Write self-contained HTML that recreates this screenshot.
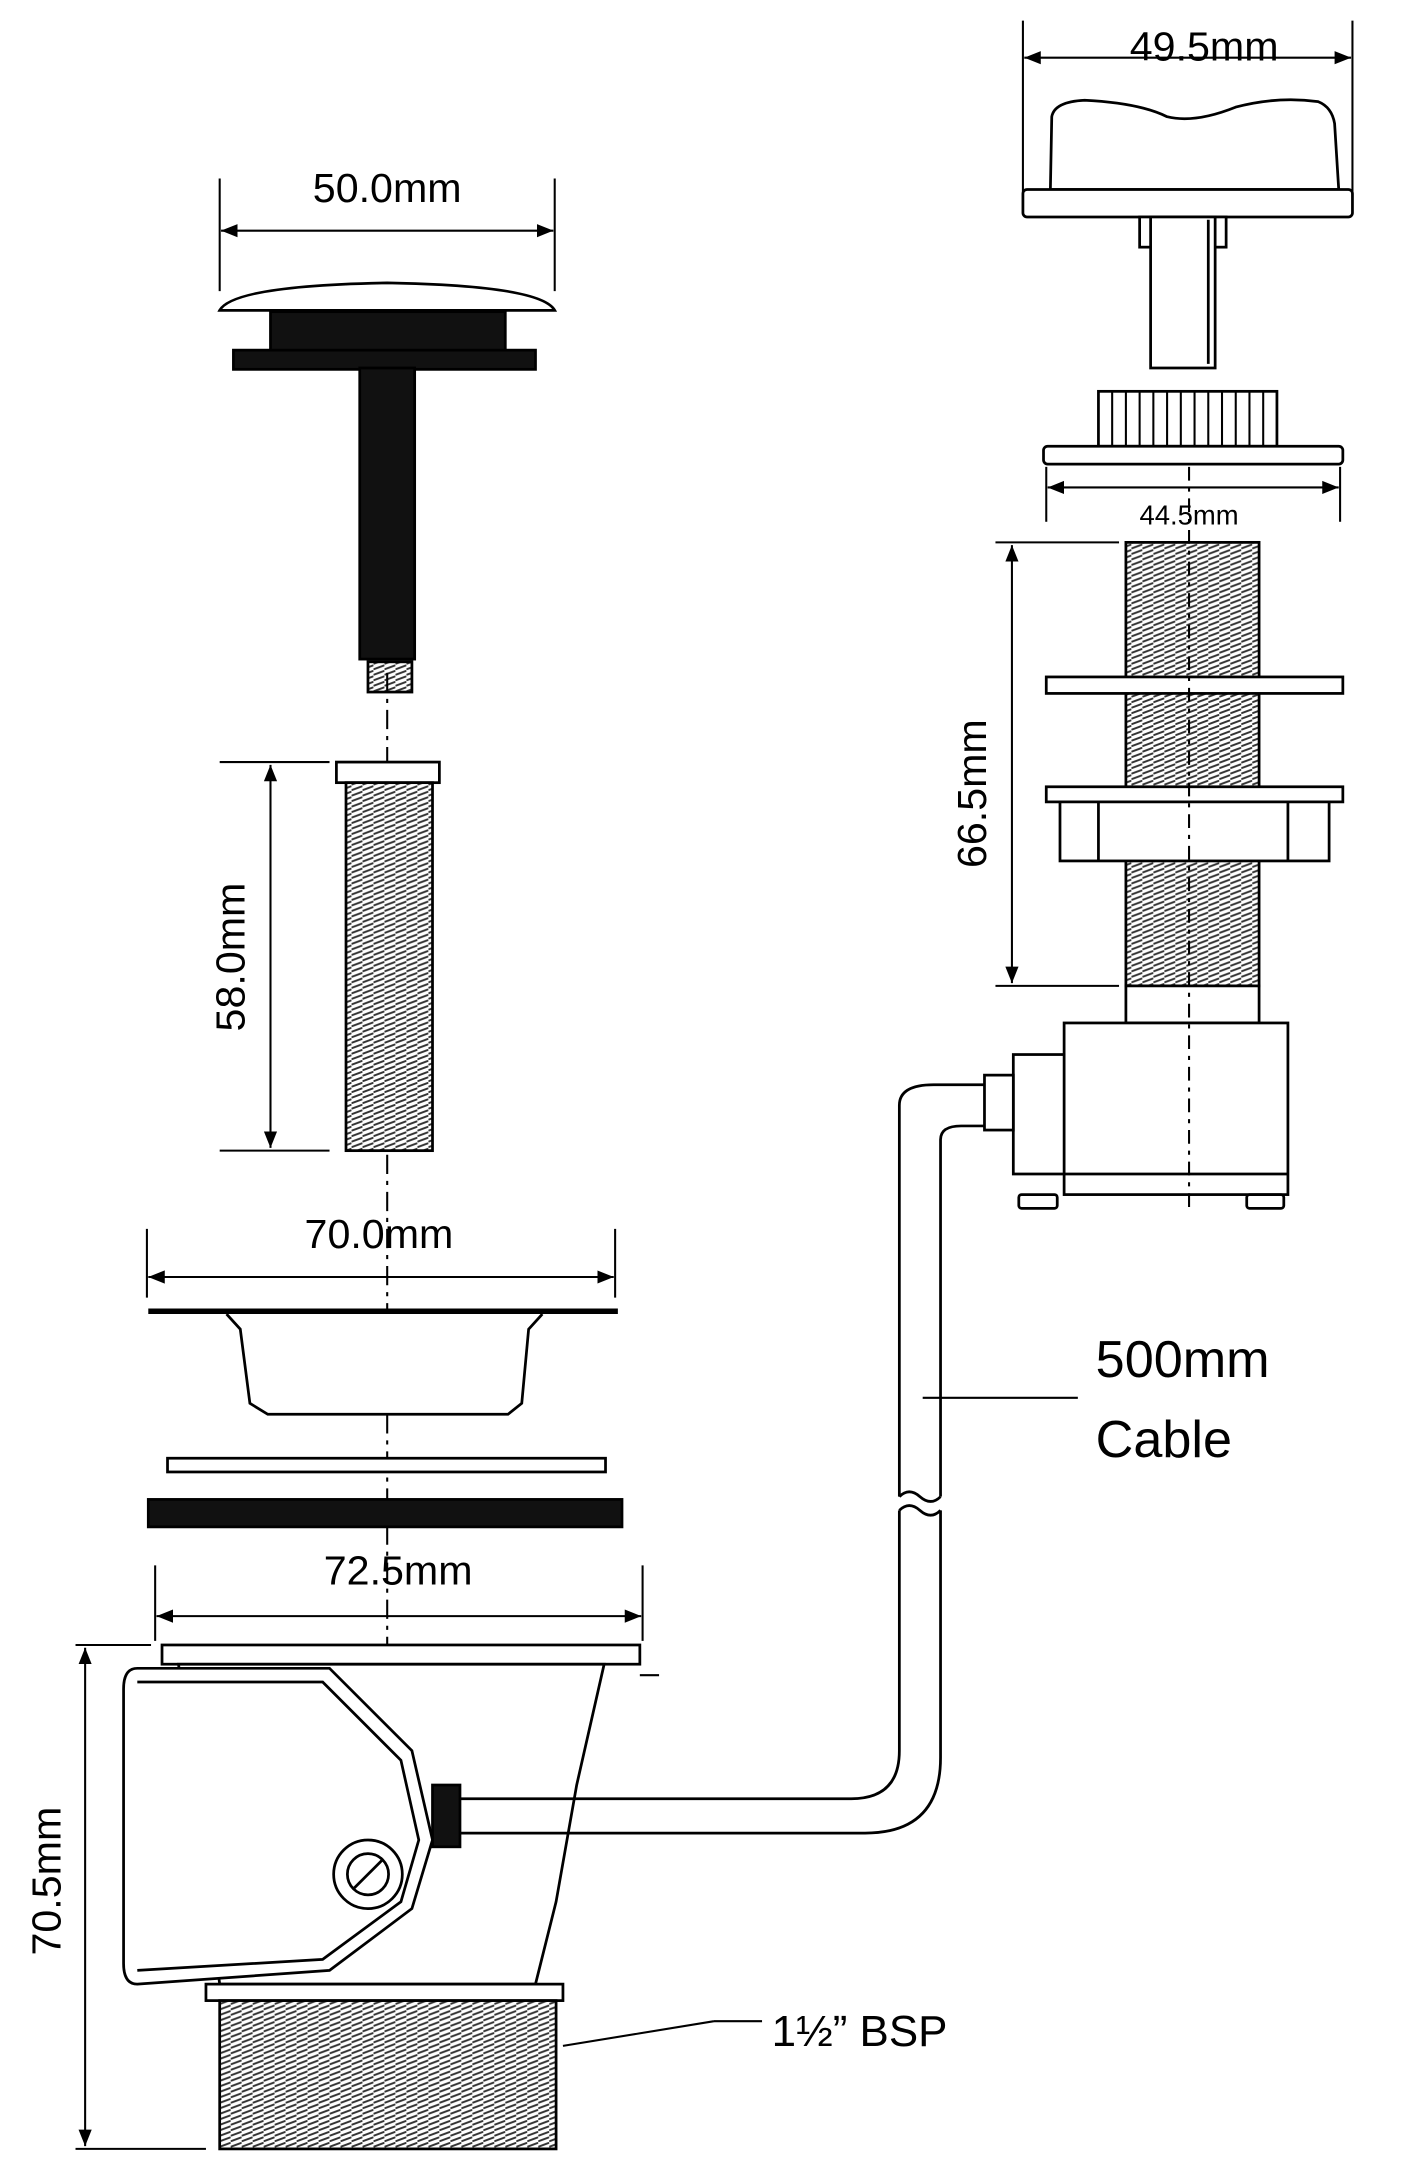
<!DOCTYPE html>
<html><head><meta charset="utf-8"><style>
html,body{margin:0;padding:0;background:#fff}
svg{display:block}
text{font-family:"Liberation Sans",Arial,sans-serif;fill:#000}
</style></head><body>
<svg width="1406" height="2164" viewBox="0 0 1024 1576" preserveAspectRatio="none" xmlns="http://www.w3.org/2000/svg">
<defs>
<marker id="a" viewBox="0 0 10 10" refX="10" refY="5" markerWidth="8" markerHeight="8" orient="auto-start-reverse"><path d="M0,1 L10,5 L0,9 Z" fill="#000"/></marker>
<pattern id="thr" width="8" height="4" patternUnits="userSpaceOnUse"><rect width="8" height="4" fill="#fff"/><path d="M0,3.5 L8,0.5" stroke="#333" stroke-width="1.4"/></pattern>
</defs>
<g stroke="#000" fill="none" stroke-width="2">
<line x1="160" y1="130" x2="160" y2="212" stroke-width="1.5"/><line x1="404" y1="130" x2="404" y2="212" stroke-width="1.5"/>
<line x1="161" y1="168" x2="403" y2="168" stroke-width="1.5" marker-start="url(#a)" marker-end="url(#a)"/>
<path d="M160,226 Q170,208 282,206 Q394,208 404,226 Z" fill="#fff"/>
<rect x="197" y="227" width="171" height="30" fill="#111"/>
<rect x="170" y="255" width="220" height="14" fill="#111"/>
<rect x="262" y="268" width="40" height="212" fill="#111"/>
<rect x="268" y="482" width="32" height="22" fill="url(#thr)"/>
<line x1="282" y1="490" x2="282" y2="1565" stroke-width="1.5" stroke-dasharray="14,5,3,5"/>
<rect x="245" y="555" width="75" height="15" fill="#fff"/>
<rect x="252" y="570" width="63" height="268" fill="url(#thr)"/>
<line x1="160" y1="555" x2="240" y2="555" stroke-width="1.5"/><line x1="160" y1="838" x2="240" y2="838" stroke-width="1.5"/>
<line x1="197" y1="557" x2="197" y2="836" stroke-width="1.5" marker-start="url(#a)" marker-end="url(#a)"/>
<line x1="107" y1="895" x2="107" y2="945" stroke-width="1.5"/><line x1="448" y1="895" x2="448" y2="945" stroke-width="1.5"/>
<line x1="108" y1="930" x2="447" y2="930" stroke-width="1.5" marker-start="url(#a)" marker-end="url(#a)"/>
<line x1="108" y1="955" x2="450" y2="955" stroke-width="4"/>
<path d="M165,957 L175,968 L182,1022 L195,1030 L370,1030 L380,1022 L385,968 L395,957" fill="#fff"/>
<rect x="122" y="1062" width="319" height="10" fill="#fff"/>
<rect x="108" y="1092" width="345" height="20" fill="#111"/>
<line x1="113" y1="1140" x2="113" y2="1195" stroke-width="1.5"/><line x1="468" y1="1140" x2="468" y2="1195" stroke-width="1.5"/>
<line x1="114" y1="1177" x2="467" y2="1177" stroke-width="1.5" marker-start="url(#a)" marker-end="url(#a)"/>
<line x1="55" y1="1198" x2="110" y2="1198" stroke-width="1.5"/><line x1="55" y1="1565" x2="150" y2="1565" stroke-width="1.5"/>
<line x1="62" y1="1200" x2="62" y2="1563" stroke-width="1.5" marker-start="url(#a)" marker-end="url(#a)"/>
<rect x="118" y="1198" width="348" height="14" fill="#fff"/>
<line x1="466" y1="1220" x2="480" y2="1220" stroke-width="1.5"/>
<path d="M130,1212 L440,1212 L420,1300 L405,1385 L390,1445 L160,1445 Z" fill="#fff"/>
<rect x="150" y="1445" width="260" height="12" fill="#fff"/>
<rect x="160" y="1457" width="245" height="108" fill="url(#thr)"/>
<path d="M100,1215 L240,1215 L300,1275 L315,1340 L300,1390 L240,1435 L100,1445 Q90,1445 90,1430 L90,1230 Q90,1215 100,1215 Z" fill="#fff"/>
<path d="M100,1225 L235,1225 L292,1282 L305,1340 L292,1385 L235,1427 L100,1435" />
<circle cx="268" cy="1365" r="25" fill="#fff"/><circle cx="268" cy="1365" r="15" fill="#fff"/>
<line x1="258" y1="1375" x2="278" y2="1355"/>
<rect x="315" y="1300" width="20" height="45" fill="#111"/>
<path d="M335,1310 L620,1310 Q655,1310 655,1275 L655,1100"/>
<path d="M335,1335 L630,1335 Q685,1335 685,1280 L685,1100"/>
<path d="M655,1100 Q662,1093 670,1100 Q678,1107 685,1100"/>
<path d="M655,1090 Q662,1083 670,1090 Q678,1097 685,1090"/>
<path d="M655,1090 L655,805 Q655,790 680,790 L717,790"/>
<path d="M685,1090 L685,830 Q685,820 700,820 L717,820"/>
<line x1="672" y1="1018" x2="785" y2="1018" stroke-width="1.5"/>
<line x1="410" y1="1490" x2="520" y2="1472" stroke-width="1.5"/><line x1="520" y1="1472" x2="555" y2="1472" stroke-width="1.5"/>
<line x1="745" y1="15" x2="745" y2="140" stroke-width="1.5"/><line x1="985" y1="15" x2="985" y2="140" stroke-width="1.5"/>
<line x1="746" y1="42" x2="984" y2="42" stroke-width="1.5" marker-start="url(#a)" marker-end="url(#a)"/>
<path d="M765,138 L766,85 Q768,74 790,73 Q830,75 850,85 Q870,90 900,78 Q930,70 960,74 Q970,78 972,90 L975,138 Z" fill="#fff"/>
<rect x="745" y="138" width="240" height="20" rx="3" fill="#fff"/>
<rect x="830" y="158" width="63" height="22" fill="#fff"/>
<rect x="838" y="158" width="47" height="110" fill="#fff"/>
<line x1="880" y1="160" x2="880" y2="265"/>
<rect x="800" y="285" width="130" height="40" fill="#fff"/>
<path d="M810,285 V325 M820,285 V325 M830,285 V325 M840,285 V325 M850,285 V325 M860,285 V325 M870,285 V325 M880,285 V325 M890,285 V325 M900,285 V325 M910,285 V325 M920,285 V325" stroke-width="1.5"/>
<rect x="760" y="325" width="218" height="13" rx="3" fill="#fff"/>
<line x1="762" y1="340" x2="762" y2="380" stroke-width="1.5"/><line x1="976" y1="340" x2="976" y2="380" stroke-width="1.5"/>
<line x1="763" y1="355" x2="975" y2="355" stroke-width="1.5" marker-start="url(#a)" marker-end="url(#a)"/>
<rect x="820" y="395" width="97" height="323" fill="url(#thr)"/>
<rect x="762" y="493" width="216" height="12" fill="#fff"/>
<rect x="762" y="573" width="216" height="11" fill="#fff"/>
<rect x="772" y="584" width="196" height="43" fill="#fff"/>
<line x1="800" y1="584" x2="800" y2="627"/><line x1="938" y1="584" x2="938" y2="627"/>
<rect x="820" y="718" width="97" height="27" fill="#fff"/>
<line x1="725" y1="395" x2="815" y2="395" stroke-width="1.5"/><line x1="725" y1="718" x2="815" y2="718" stroke-width="1.5"/>
<line x1="737" y1="397" x2="737" y2="716" stroke-width="1.5" marker-start="url(#a)" marker-end="url(#a)"/>
<rect x="775" y="745" width="163" height="125" fill="#fff"/>
<line x1="775" y1="855" x2="938" y2="855"/>
<rect x="738" y="768" width="37" height="87" fill="#fff"/>
<rect x="717" y="783" width="21" height="40" fill="#fff"/>
<rect x="742" y="870" width="28" height="10" rx="2" fill="#fff"/><rect x="908" y="870" width="27" height="10" rx="2" fill="#fff"/>
<line x1="866" y1="340" x2="866" y2="880" stroke-width="1.5" stroke-dasharray="10,5,3,5"/>
</g>
<text x="282" y="147" font-size="30" text-anchor="middle">50.0mm</text>
<text x="877" y="44" font-size="30" text-anchor="middle">49.5mm</text>
<text x="866" y="382" font-size="20" text-anchor="middle">44.5mm</text>
<text transform="translate(718,578) rotate(-90)" font-size="30" text-anchor="middle">66.5mm</text>
<text transform="translate(178,697) rotate(-90)" font-size="30" text-anchor="middle">58.0mm</text>
<text x="276" y="909" font-size="30" text-anchor="middle">70.0mm</text>
<text x="290" y="1154" font-size="30" text-anchor="middle">72.5mm</text>
<text transform="translate(44,1370) rotate(-90)" font-size="30" text-anchor="middle">70.5mm</text>
<text x="798" y="1003" font-size="38">500mm</text>
<text x="798" y="1061" font-size="38">Cable</text>
<text x="562" y="1490" font-size="32">1½” BSP</text>
</svg>
</body></html>
